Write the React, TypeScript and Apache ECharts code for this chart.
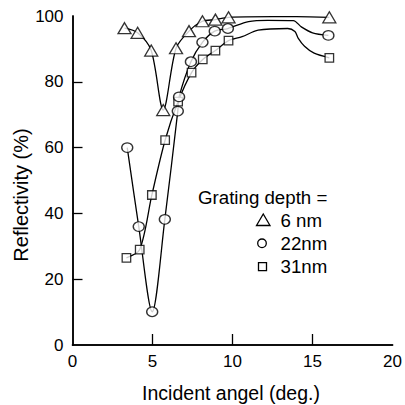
import React, { useEffect, useRef } from "react";
import * as echarts from "echarts";

// Marker data: [angle (deg), reflectivity (%)]
const depth6nm: number[][] = [
  [3.25, 96.3], [4.07, 94.9], [4.92, 89.5], [5.67, 71.4], [6.47, 90.2],
  [7.28, 95.4], [8.12, 98.4], [8.93, 98.9], [9.75, 99.6], [16.05, 99.6],
];
const depth22nm: number[][] = [
  [3.42, 60.0], [4.14, 36.0], [4.98, 10.1], [5.77, 38.2], [6.58, 71.1],
  [6.66, 75.4], [7.4, 86.1], [8.12, 92.0], [8.89, 95.4], [9.71, 96.2], [15.99, 94.1],
];
const depth31nm: number[][] = [
  [3.37, 26.5], [4.2, 29.0], [4.96, 45.6], [5.79, 62.3], [6.6, 74.0],
  [7.44, 82.8], [8.14, 86.8], [8.93, 89.5], [9.75, 92.5], [16.05, 87.3],
];
// Extra points (no markers)
const curve6nm: number[][] = [[12.5, 99.8], [14.0, 99.8]];
const curve22nm: number[][] = [[11.0, 98.3], [12.2, 98.7], [13.8, 98.6], [14.3, 96.7], [15.0, 94.9]];
const curve31nm: number[][] = [[10.6, 93.7], [11.6, 95.7], [13.45, 96.2], [13.9, 95.3], [14.1, 93.3], [14.5, 90.8], [15.1, 88.7]];

const xTicks = [0, 5, 10, 15, 20];
const yTicks = [0, 20, 40, 60, 80, 100];
const legendTitle = "Grating depth =";
const legendLabels = ["6 nm", "22nm", "31nm"];
const xName = "Incident angel (deg.)";
const yName = "Reflectivity (%)";

const FONT = "'Liberation Sans', Arial, Helvetica, sans-serif";

function merge(a: number[][], b: number[][]) {
  return [...a, ...b].sort((p, q) => p[0] - q[0]);
}

export default function App() {
  const ref = useRef<HTMLDivElement>(null);
  useEffect(() => {
    if (!ref.current) return;
    const chart = echarts.init(ref.current, undefined, { renderer: "svg" });
    const lineStyle = { color: "#000", width: 1.3 };
    const markerStyle = { color: "#fff", borderColor: "#000", borderWidth: 1.3 };
    const axisCommon = {
      axisLine: { show: true, lineStyle: { color: "#000", width: 1.5 } },
      splitLine: { show: false },
    };
    chart.setOption({
      animation: false,
      backgroundColor: "#fff",
      grid: { left: 72.5, top: 16, right: 9.5, bottom: 60, containLabel: false },
      xAxis: [
        {
          type: "value", min: 0, max: 20, interval: 5,
          ...axisCommon,
          axisTick: {
            show: true, inside: true, length: 11,
            lineStyle: { color: "#000", width: 1.3 },
            customValues: xTicks.filter((v) => v > 0 && v < 20),
          },
          axisLabel: {
            color: "#000", fontSize: 17, fontFamily: FONT, margin: 8,
            customValues: xTicks,
            formatter: (v: number) => String(v),
          },
        },
        {
          type: "value", min: 0, max: 20, position: "top",
          ...axisCommon, axisTick: { show: false }, axisLabel: { show: false },
        },
      ],
      yAxis: [
        {
          type: "value", min: 0, max: 100, interval: 20,
          ...axisCommon,
          axisTick: {
            show: true, inside: true, length: 10,
            lineStyle: { color: "#000", width: 1.3 },
            customValues: yTicks.filter((v) => v > 0 && v < 100),
          },
          axisLabel: {
            color: "#000", fontSize: 17, fontFamily: FONT, margin: 9,
            customValues: yTicks,
            formatter: (v: number) => String(v),
          },
        },
        {
          type: "value", min: 0, max: 100, position: "right",
          ...axisCommon, axisTick: { show: false }, axisLabel: { show: false },
        },
      ],
      series: [
        { type: "line", data: merge(depth6nm, curve6nm), smooth: 0.3, showSymbol: false, lineStyle, z: 2 },
        { type: "line", data: merge(depth22nm, curve22nm), smooth: 0.3, showSymbol: false, lineStyle, z: 2 },
        { type: "line", data: merge(depth31nm, curve31nm), smooth: 0.3, showSymbol: false, lineStyle, z: 2 },
        { type: "scatter", data: depth31nm, symbol: "rect", symbolSize: [8.5, 8.5], itemStyle: markerStyle, z: 3 },
        { type: "scatter", data: depth22nm, symbol: "circle", symbolSize: [11, 9.5], itemStyle: markerStyle, z: 4 },
        { type: "scatter", data: depth6nm, symbol: "triangle", symbolSize: [13, 11], itemStyle: markerStyle, z: 5 },
      ],
      graphic: [
        {
          type: "text", x: 231, y: 393, style: {
            text: xName, fill: "#000", fontSize: 19.5, fontFamily: FONT,
            textAlign: "center", textVerticalAlign: "middle",
          },
        },
        {
          type: "text", x: 21, y: 195, rotation: Math.PI / 2, style: {
            text: yName, fill: "#000", fontSize: 20, fontFamily: FONT,
            textAlign: "center", textVerticalAlign: "middle",
          },
        },
        {
          type: "text", x: 198, y: 197, style: {
            text: legendTitle, fill: "#000", fontSize: 18.7, fontFamily: FONT,
            textAlign: "left", textVerticalAlign: "middle",
          },
        },
        {
          type: "polygon", shape: { points: [[256.5, 225.5], [270, 225.5], [263.25, 214]] },
          style: { fill: "#fff", stroke: "#000", lineWidth: 1.3 },
        },
        {
          type: "ellipse", shape: { cx: 262, cy: 243.3, rx: 4.3, ry: 4.3 },
          style: { fill: "#fff", stroke: "#000", lineWidth: 1.3 },
        },
        {
          type: "rect", shape: { x: 258.5, y: 262.7, width: 8, height: 8 },
          style: { fill: "#fff", stroke: "#000", lineWidth: 1.3 },
        },
        ...legendLabels.map((t, i) => ({
          type: "text", x: 280.5, y: 220 + i * 23.3, style: {
            text: t, fill: "#000", fontSize: 18.7, fontFamily: FONT,
            textAlign: "left", textVerticalAlign: "middle",
          },
        })),
      ],
    });
    return () => chart.dispose();
  }, []);
  return (
    <div
      ref={ref}
      style={{ position: "fixed", left: 0, top: 0, width: 405, height: 405, background: "#fff" }}
    />
  );
}
